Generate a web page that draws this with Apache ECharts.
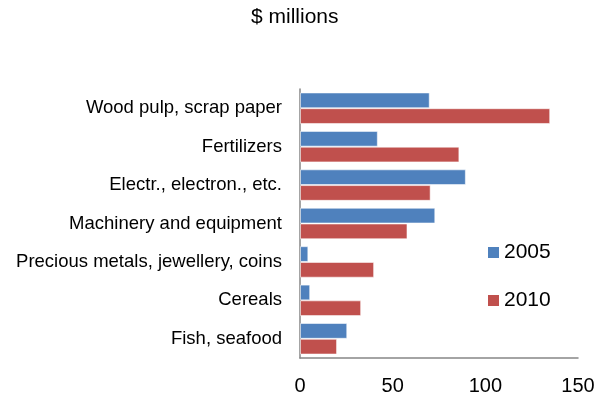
<!DOCTYPE html>
<html>
<head>
<meta charset="utf-8">
<script src="https://cdn.jsdelivr.net/npm/echarts@6/dist/echarts.min.js"></script>
<style>
  html, body { margin: 0; padding: 0; background: #ffffff; }
  #chart { width: 607px; height: 399px; }
</style>
</head>
<body>
<div id="chart"></div>
<script>
// Product groups, listed top to bottom
const categories = [
  'Wood pulp, scrap paper',
  'Fertilizers',
  'Electr., electron., etc.',
  'Machinery and equipment',
  'Precious metals, jewellery, coins',
  'Cereals',
  'Fish, seafood'
];

// Values in $ millions
const values2005 = [70, 42, 89.5, 73, 4.5, 5.5, 25.5];
const values2010 = [135, 86, 70.5, 58, 40, 33, 20];

const seriesNames = ['2005', '2010'];
const xTicks = { min: 0, max: 150, interval: 50 };

const FONT = '"Liberation Sans", Arial, sans-serif';

const chart = echarts.init(document.getElementById('chart'), null, { renderer: 'canvas' });

chart.setOption({
  animation: false,
  backgroundColor: '#ffffff',
  title: {
    text: '$ millions',
    left: 246,
    top: 2,
    textStyle: { fontFamily: FONT, fontSize: 21, fontWeight: 'normal', color: '#000000' }
  },
  legend: {
    data: seriesNames,
    orient: 'vertical',
    left: 483,
    top: 237,
    icon: 'rect',
    itemWidth: 11,
    itemHeight: 11,
    itemGap: 27,
    itemStyle: { borderWidth: 0 },
    textStyle: { fontFamily: FONT, fontSize: 21, color: '#000000', lineHeight: 21 }
  },
  grid: { left: 300, right: 29, top: 89, bottom: 41 },
  xAxis: {
    type: 'value',
    min: xTicks.min,
    max: xTicks.max,
    interval: xTicks.interval,
    axisLine: { show: true, lineStyle: { color: '#868686', width: 1.5 } },
    axisTick: { show: false },
    splitLine: { show: false },
    axisLabel: { fontFamily: FONT, fontSize: 20, color: '#000000', margin: 18 }
  },
  yAxis: {
    type: 'category',
    data: categories,
    inverse: true,
    axisLine: { show: true, lineStyle: { color: '#868686', width: 1.5 } },
    axisTick: { show: false },
    axisLabel: { fontFamily: FONT, fontSize: 18.5, color: '#000000', margin: 18 }
  },
  series: [
    {
      name: seriesNames[0],
      type: 'bar',
      data: values2005,
      barGap: '0%',
      barCategoryGap: '18%',
      itemStyle: { color: '#4F81BD', borderColor: 'rgba(255,255,255,0.55)', borderWidth: 1 }
    },
    {
      name: seriesNames[1],
      type: 'bar',
      data: values2010,
      barGap: '0%',
      barCategoryGap: '18%',
      itemStyle: { color: '#C0504D', borderColor: 'rgba(255,255,255,0.55)', borderWidth: 1 }
    }
  ]
});
</script>
</body>
</html>
